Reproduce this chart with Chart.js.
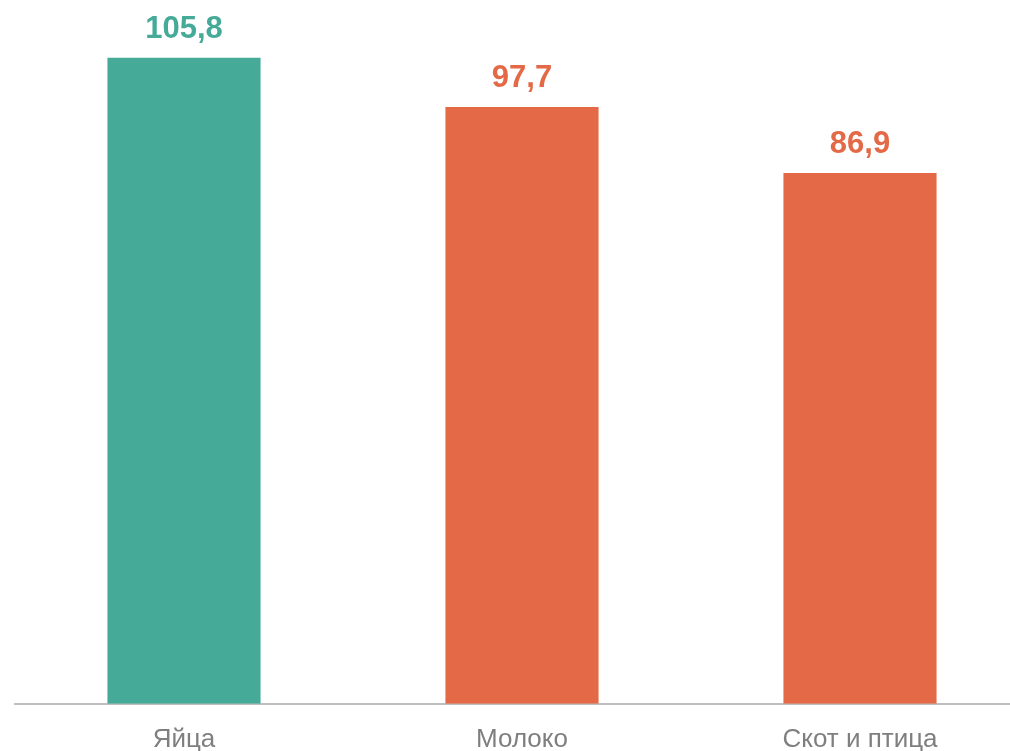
<!DOCTYPE html>
<html>
<head>
<meta charset="utf-8">
<script src="https://cdn.jsdelivr.net/npm/chart.js@4"></script>
<style>
  html, body { margin: 0; padding: 0; background: #fff; overflow: hidden; }
  #wrap { width: 1029px; height: 767px; position: relative; }
</style>
</head>
<body>
<div id="wrap"><canvas id="chart"></canvas></div>
<script>
const categories = ['Яйца', 'Молоко', 'Скот и птица'];
const values = [105.8, 97.7, 86.9];
const barColors = ['#46aa98', '#e36947', '#e36947'];

// draws "105,8" style labels above every bar
const valueLabels = {
  id: 'valueLabels',
  afterDatasetsDraw(chart) {
    const ctx = chart.ctx;
    const meta = chart.getDatasetMeta(0);
    ctx.save();
    ctx.font = 'bold 31px "Liberation Sans", Arial, sans-serif';
    ctx.textAlign = 'center';
    ctx.textBaseline = 'alphabetic';
    meta.data.forEach((bar, i) => {
      ctx.fillStyle = barColors[i];
      ctx.fillText(values[i].toFixed(1).replace('.', ','), bar.x, bar.y - 20);
    });
    ctx.restore();
  }
};

new Chart(document.getElementById('chart'), {
  type: 'bar',
  data: {
    labels: categories,
    datasets: [{
      data: values,
      backgroundColor: barColors,
      categoryPercentage: 1,
      barPercentage: 0.453,
    }],
  },
  options: {
    responsive: true,
    maintainAspectRatio: false,
    animation: false,
    layout: { padding: { left: 15, right: 0, top: 32, bottom: 0 } },
    plugins: {
      legend: { display: false },
      tooltip: { enabled: false },
    },
    scales: {
      x: {
        grid: { display: false },
        border: { display: true, color: '#bfbfbf', width: 2 },
        ticks: {
          color: '#7f7f7f',
          padding: 12,
          font: { family: '"Liberation Sans", Arial, sans-serif', size: 26 },
        },
      },
      y: {
        display: false,
        min: 0,
        max: 110,
      },
    },
  },
  plugins: [valueLabels],
});
</script>
</body>
</html>
